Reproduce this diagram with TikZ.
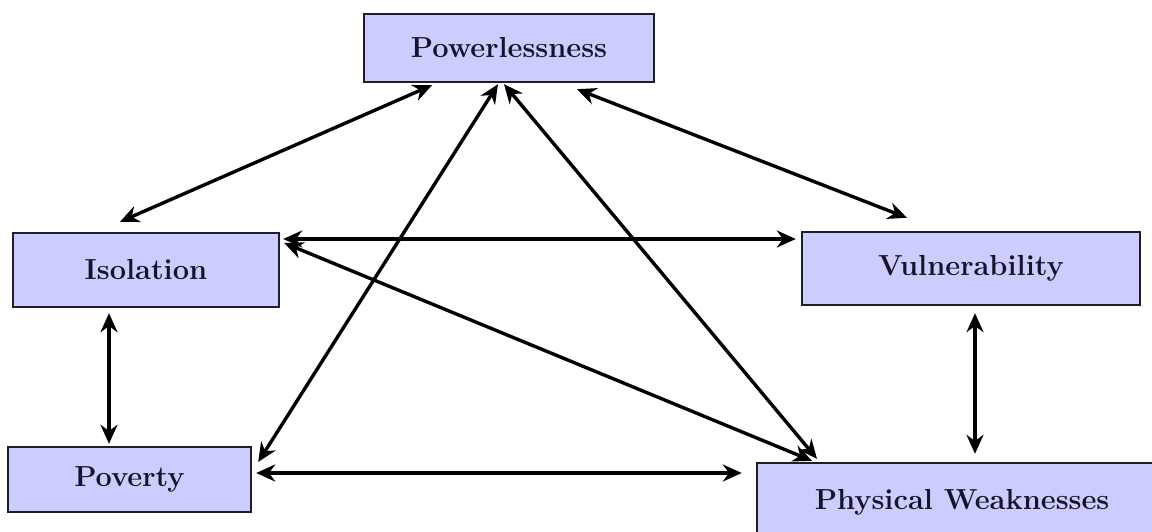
\documentclass[tikz,border=0pt]{standalone}
\usetikzlibrary{arrows.meta}
\definecolor{boxfill}{HTML}{CCCCFF}
\definecolor{boxline}{HTML}{1E1E2A}
\definecolor{boxtext}{HTML}{14142A}
\begin{document}
\begin{tikzpicture}[x=1pt,y=1pt,
  box/.style={draw=boxline,line width=2.4pt,fill=boxfill,inner sep=0pt,
    font=\fontsize{29}{33}\selectfont\bfseries,text=boxtext},
  link/.style={line width=3.4pt,{Stealth[length=19pt,width=17pt]}-{Stealth[length=19pt,width=17pt]}}]
\clip (0,0) rectangle (1152,531);
\fill[white] (0,0) rectangle (1152,531);
\node[box,minimum width=290pt,minimum height=68pt] (pow) at (509,483) {Powerlessness};
\node[box,minimum width=266pt,minimum height=74pt] (iso) at (146,261) {Isolation};
\node[box,minimum width=338pt,minimum height=73pt] (vul) at (971,262.5) {Vulnerability};
\node[box,minimum width=243pt,minimum height=65pt] (pov) at (129.5,51.5) {Poverty};
\node[box,minimum width=410pt,minimum height=78pt] (phy) at (962,29) {Physical Weaknesses};
\draw[link] ([xshift=-77pt,yshift=-2pt]pow.south) -- ([xshift=-26pt,yshift=10pt]iso.north);
\draw[link] ([xshift=68pt,yshift=-6pt]pow.south) -- ([xshift=-64pt,yshift=13pt]vul.north);
\draw[link] ([xshift=-11pt,yshift=-1pt]pow.south) -- ([xshift=6pt,yshift=17.5pt]pov.east);
\draw[link] ([xshift=-5pt,yshift=-1pt]pow.south) -- ([xshift=-145pt,yshift=3pt]phy.north);
\draw[link] ([xshift=3pt,yshift=31pt]iso.east) -- ([xshift=-5pt,yshift=29.5pt]vul.west);
\draw[link] ([xshift=4pt,yshift=27pt]iso.east) -- ([xshift=-150pt,yshift=1pt]phy.north);
\draw[link] ([xshift=-37pt,yshift=-5pt]iso.south) -- ([xshift=-20.5pt,yshift=2pt]pov.north);
\draw[link] ([xshift=4pt,yshift=-7pt]vul.south) -- ([xshift=13pt,yshift=8pt]phy.north);
\draw[link] ([xshift=4pt,yshift=6.5pt]pov.east) -- ([xshift=-14pt,yshift=29pt]phy.west);
\end{tikzpicture}
\end{document}
